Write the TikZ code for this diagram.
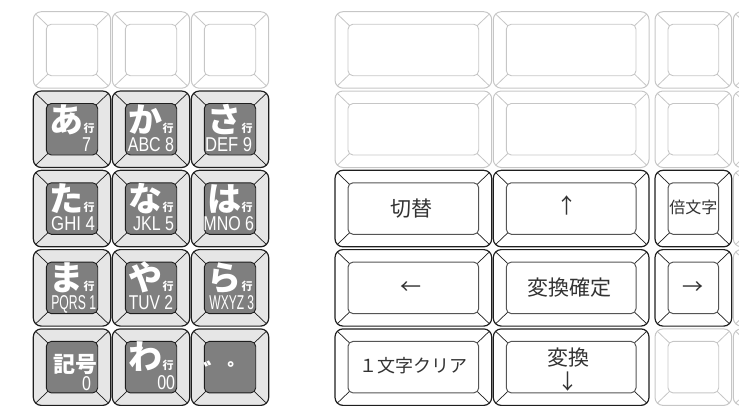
\documentclass[tikz,border=0pt]{standalone}
\usepackage{fontspec}
\usepackage{graphicx}
\setmainfont{Noto Sans CJK JP}
\newfontfamily\legendfont{Liberation Sans}
\usetikzlibrary{positioning,calc}
\definecolor{rimline}{HTML}{1E1E1E}
\definecolor{faceline}{HTML}{555555}
\definecolor{ghost}{HTML}{C6C6C6}
\definecolor{capfill}{HTML}{E6E6E6}
\definecolor{kanafill}{HTML}{7F7F7F}
\definecolor{legendink}{HTML}{333333}

% one key: kind, left, top, width (height is fixed)
\newcommand{\keycap}[4]{%
  \path[#1rim] (#2,#3) rectangle ++(#4,76.5);
  \path[#1bevel] ({#2+2.3},{#3+2.3}) -- ({#2+14.5},{#3+14})
                 ({#2+#4-2.3},{#3+2.3}) -- ({#2+#4-14.5},{#3+14})
                 ({#2+2.3},{#3+74.2}) -- ({#2+14.5},{#3+62.5})
                 ({#2+#4-2.3},{#3+74.2}) -- ({#2+#4-14.5},{#3+62.5});
  \path[#1face] ({#2+13},{#3+12.5}) rectangle ({#2+#4-13},{#3+64});
}
\newcommand{\gyo}{{\fontsize{11}{11}\selectfont 行}}
\newcommand{\legendsq}[2]{\scalebox{#1}[1]{#2}}

\begin{document}
\begin{tikzpicture}[
  x=1pt, y=-1pt,
  every node/.style={inner sep=0pt},
  ghostrim/.style={draw=ghost,line width=1pt,rounded corners=8pt},
  ghostbevel/.style={draw=ghost,line width=0.8pt},
  ghostface/.style={draw=ghost,line width=0.9pt,rounded corners=5pt},
  darkrim/.style={draw=rimline,fill=white,line width=1.2pt,rounded corners=8pt},
  darkbevel/.style={draw=rimline,line width=0.7pt},
  darkface/.style={draw=faceline,fill=white,line width=1pt,rounded corners=5pt},
  kanarim/.style={draw=rimline,fill=capfill,line width=1.2pt,rounded corners=8pt},
  kanabevel/.style={draw=rimline,line width=0.7pt},
  kanaface/.style={draw=rimline,fill=kanafill,line width=0.9pt,rounded corners=5pt},
  kana/.style={anchor=base west,text=white,text height=26pt,text depth=0pt,
               font=\fontsize{34}{34}\selectfont\bfseries},
  kanamark/.style={text=white,text depth=0pt,font=\fontsize{22}{22}\selectfont\bfseries},
  legend/.style={anchor=base east,text=white,text height=13pt,text depth=0pt,
                 font=\fontsize{20}{20}\selectfont\legendfont},
  keytext/.style={text=legendink,align=center,font=\fontsize{21}{24}\selectfont}
]
\useasboundingbox (0,0) rectangle (739,405);
\clip (0,0) rectangle (739,405);

% Left block, top row (unused)
\keycap{ghost}{33.3}{11.7}{77.4}
\keycap{ghost}{112.3}{11.7}{77.4}
\keycap{ghost}{191.3}{11.7}{77.4}

% Left block, kana keys
\keycap{kana}{33.3}{91}{77.4}
\keycap{kana}{112.3}{91}{77.4}
\keycap{kana}{191.3}{91}{77.4}
\keycap{kana}{33.3}{170.3}{77.4}
\keycap{kana}{112.3}{170.3}{77.4}
\keycap{kana}{191.3}{170.3}{77.4}
\keycap{kana}{33.3}{249.6}{77.4}
\keycap{kana}{112.3}{249.6}{77.4}
\keycap{kana}{191.3}{249.6}{77.4}
\keycap{kana}{33.3}{328.9}{77.4}
\keycap{kana}{112.3}{328.9}{77.4}
\keycap{kana}{191.3}{328.9}{77.4}

\node[kana] (ka-a) at (49.3,132) {あ\gyo};
\node[kana] (ka-ka) at (128.3,132) {か\gyo};
\node[kana] (ka-sa) at (207.3,132) {さ\gyo};
\node[kana] (ka-ta) at (49.3,211.3) {た\gyo};
\node[kana] (ka-na) at (128.3,211.3) {な\gyo};
\node[kana] (ka-ha) at (207.3,211.3) {は\gyo};
\node[kana] (ka-ma) at (49.3,290.6) {ま\gyo};
\node[kana] (ka-ya) at (128.3,290.6) {や\gyo};
\node[kana] (ka-ra) at (207.3,290.6) {ら\gyo};
\node[kana] (ka-wa) at (128.3,369.9) {わ\gyo};
\node[kanamark] (ka-kigo) at (75.3,363) {記号};
\node[kanamark,font=\fontsize{24}{24}\selectfont\bfseries] (ka-daku) at (227.5,371) {゛゜};

\node[legend] (lg-7) at (91.3,151) {\legendsq{0.8}{7}};
\node[legend] (lg-8) at (174.3,151) {\legendsq{0.8}{ABC 8}};
\node[legend] (lg-9) at (252.3,151) {\legendsq{0.83}{DEF 9}};
\node[legend] (lg-4) at (95.3,230.3) {\legendsq{0.84}{GHI 4}};
\node[legend] (lg-5) at (174.3,230.3) {\legendsq{0.8}{JKL 5}};
\node[legend] (lg-6) at (254.3,230.3) {\legendsq{0.8}{MNO 6}};
\node[legend] (lg-1) at (96.3,309.6) {\legendsq{0.61}{PQRS 1}};
\node[legend] (lg-2) at (173.3,309.6) {\legendsq{0.78}{TUV 2}};
\node[legend] (lg-3) at (254.3,309.6) {\legendsq{0.6}{WXYZ 3}};
\node[legend] (lg-0) at (91.3,390) {\legendsq{0.8}{0}};
\node[legend] (lg-00) at (175.3,389.5) {\legendsq{0.8}{00}};

% Right block, top rows (unused)
\keycap{ghost}{335}{11.7}{156.7}
\keycap{ghost}{493.3}{11.7}{155.7}
\keycap{ghost}{655}{11.7}{76.7}
\keycap{ghost}{733.3}{11.7}{77}
\keycap{ghost}{335}{91}{156.7}
\keycap{ghost}{493.3}{91}{155.7}
\keycap{ghost}{655}{91}{76.7}
\keycap{ghost}{733.3}{91}{77}

% Right block, function keys
\keycap{dark}{335}{170.3}{156.7}
\keycap{dark}{493.3}{170.3}{155.7}
\keycap{dark}{655}{170.3}{76.7}
\keycap{ghost}{733.3}{170.3}{77}
\keycap{dark}{335}{249.6}{156.7}
\keycap{dark}{493.3}{249.6}{155.7}
\keycap{dark}{655}{249.6}{76.7}
\keycap{ghost}{733.3}{249.6}{77}
\keycap{dark}{335}{328.9}{156.7}
\keycap{dark}{493.3}{328.9}{155.7}
\keycap{ghost}{655}{328.9}{76.7}
\keycap{ghost}{733.3}{328.9}{77}

\node[keytext] (fn-switch) at (411,209) {切替};
\node[keytext] (fn-up) at (567,205) {↑};
\node[keytext,font=\fontsize{16}{16}\selectfont] (fn-double) at (693.3,207.5) {倍文字};
\node[keytext] (fn-left) at (411,287.8) {←};
\node[keytext] (fn-commit) at (569,287.8) {変換確定};
\node[keytext] (fn-right) at (693.3,287.8) {→};
\node[keytext,font=\fontsize{18}{18}\selectfont] (fn-clear) at (413.5,366) {１文字クリア};
\node[keytext] (fn-convert) at (568,370) {変換\\↓};
\end{tikzpicture}
\end{document}
